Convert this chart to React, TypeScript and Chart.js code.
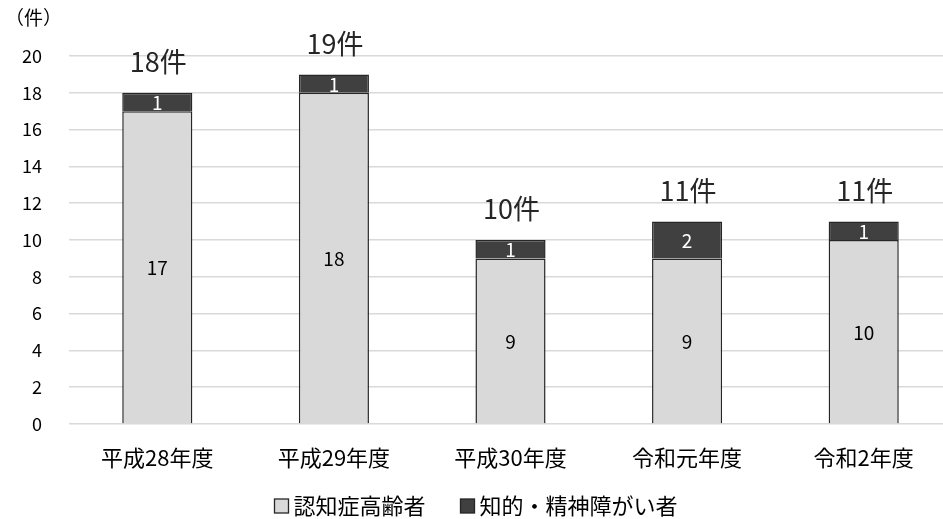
import React, { useEffect, useRef } from "react";
import { Chart, registerables } from "chart.js";

Chart.register(...registerables);

const categories = ["平成28年度", "平成29年度", "平成30年度", "令和元年度", "令和2年度"];
const elderlyDementia = [17, 18, 9, 9, 10];
const intellectualMental = [1, 1, 1, 2, 1];
const seriesNames = ["認知症高齢者", "知的・精神障がい者"];
const yTicks = [0, 2, 4, 6, 8, 10, 12, 14, 16, 18, 20];
const unitLabel = "（件）";
const totalSuffix = "件";

const FONT = "'Noto Sans CJK JP', 'Noto Sans', sans-serif";
const LIGHT = "#d9d9d9";
const DARK = "#404040";
const BORDER = "#262626";

const labelsPlugin = {
  id: "customLabels",
  afterDatasetsDraw(chart: any) {
    const ctx = chart.ctx;
    ctx.save();
    ctx.textAlign = "center";
    ctx.textBaseline = "middle";
    chart.data.datasets.forEach((ds: any, di: number) => {
      const meta = chart.getDatasetMeta(di);
      meta.data.forEach((el: any, i: number) => {
        const v = ds.data[i];
        ctx.font = `19px ${FONT}`;
        ctx.fillStyle = di === 0 ? "#000000" : "#ffffff";
        ctx.fillText(String(v), el.x, (el.y + el.base) / 2 + 1);
      });
    });
    const topMeta = chart.getDatasetMeta(chart.data.datasets.length - 1);
    topMeta.data.forEach((el: any, i: number) => {
      const total = elderlyDementia[i] + intellectualMental[i];
      ctx.font = `27px ${FONT}`;
      ctx.fillStyle = "#262626";
      ctx.fillText(total + totalSuffix, el.x + 1, el.y - 31);
    });
    ctx.restore();
  },
  afterDraw(chart: any) {
    const ctx = chart.ctx;
    ctx.save();
    // unit label
    ctx.font = `19px ${FONT}`;
    ctx.fillStyle = "#000000";
    ctx.textAlign = "left";
    ctx.textBaseline = "middle";
    ctx.fillText(unitLabel, 5, 18);
    // legend
    ctx.font = `22px ${FONT}`;
    const box = 14;
    const gap = 5;
    const itemGap = 35;
    const colors = [LIGHT, DARK];
    const widths = seriesNames.map((n) => ctx.measureText(n).width);
    const total = widths.reduce((a, w) => a + box + gap + w, 0) + itemGap * (seriesNames.length - 1);
    let x = 476 - total / 2;
    const cy = 506;
    seriesNames.forEach((n, i) => {
      ctx.fillStyle = colors[i];
      ctx.fillRect(x, cy - box / 2, box, box);
      ctx.strokeStyle = BORDER;
      ctx.lineWidth = 1.3;
      ctx.strokeRect(x, cy - box / 2, box, box);
      ctx.fillStyle = "#000000";
      ctx.fillText(n, x + box + gap, cy);
      x += box + gap + widths[i] + itemGap;
    });
    ctx.restore();
  },
};

export default function App() {
  const canvasRef = useRef<HTMLCanvasElement | null>(null);

  useEffect(() => {
    document.body.style.margin = "0";
    const canvas = canvasRef.current!;
    const chart = new Chart(canvas, {
      type: "bar",
      data: {
        labels: categories,
        datasets: [
          {
            label: seriesNames[0],
            data: elderlyDementia,
            backgroundColor: LIGHT,
            borderColor: BORDER,
            borderWidth: 1.5,
          },
          {
            label: seriesNames[1],
            data: intellectualMental,
            backgroundColor: DARK,
            borderColor: BORDER,
            borderWidth: 1.5,
          },
        ],
      },
      options: {
        responsive: false,
        animation: false,
        devicePixelRatio: 1,
        layout: { padding: { top: 56, bottom: 45, left: 0, right: 0 } },
        datasets: { bar: { categoryPercentage: 1, barPercentage: 0.397 } },
        plugins: {
          legend: { display: false },
          tooltip: { enabled: false },
          title: { display: false },
        },
        scales: {
          x: {
            stacked: true,
            grid: { display: false, drawTicks: false },
            border: { display: false },
            ticks: { color: "#000000", font: { family: FONT, size: 22 }, padding: 20 },
            afterFit(scale: any) {
              scale.height = 50;
            },
          },
          y: {
            stacked: true,
            min: 0,
            max: 20,
            afterBuildTicks(scale: any) {
              scale.ticks = yTicks.map((v) => ({ value: v }));
            },
            grid: { color: LIGHT, lineWidth: 1.5, drawTicks: false },
            border: { display: false },
            ticks: { color: "#000000", font: { family: FONT, size: 18 }, padding: 27 },
            afterFit(scale: any) {
              scale.width = 69;
            },
          },
        },
      },
      plugins: [labelsPlugin],
    } as any);
    return () => chart.destroy();
  }, []);

  return (
    <div style={{ width: 943, height: 519, overflow: "hidden", position: "relative" }}>
      <canvas ref={canvasRef} width={952} height={519} style={{ display: "block" }} />
    </div>
  );
}
